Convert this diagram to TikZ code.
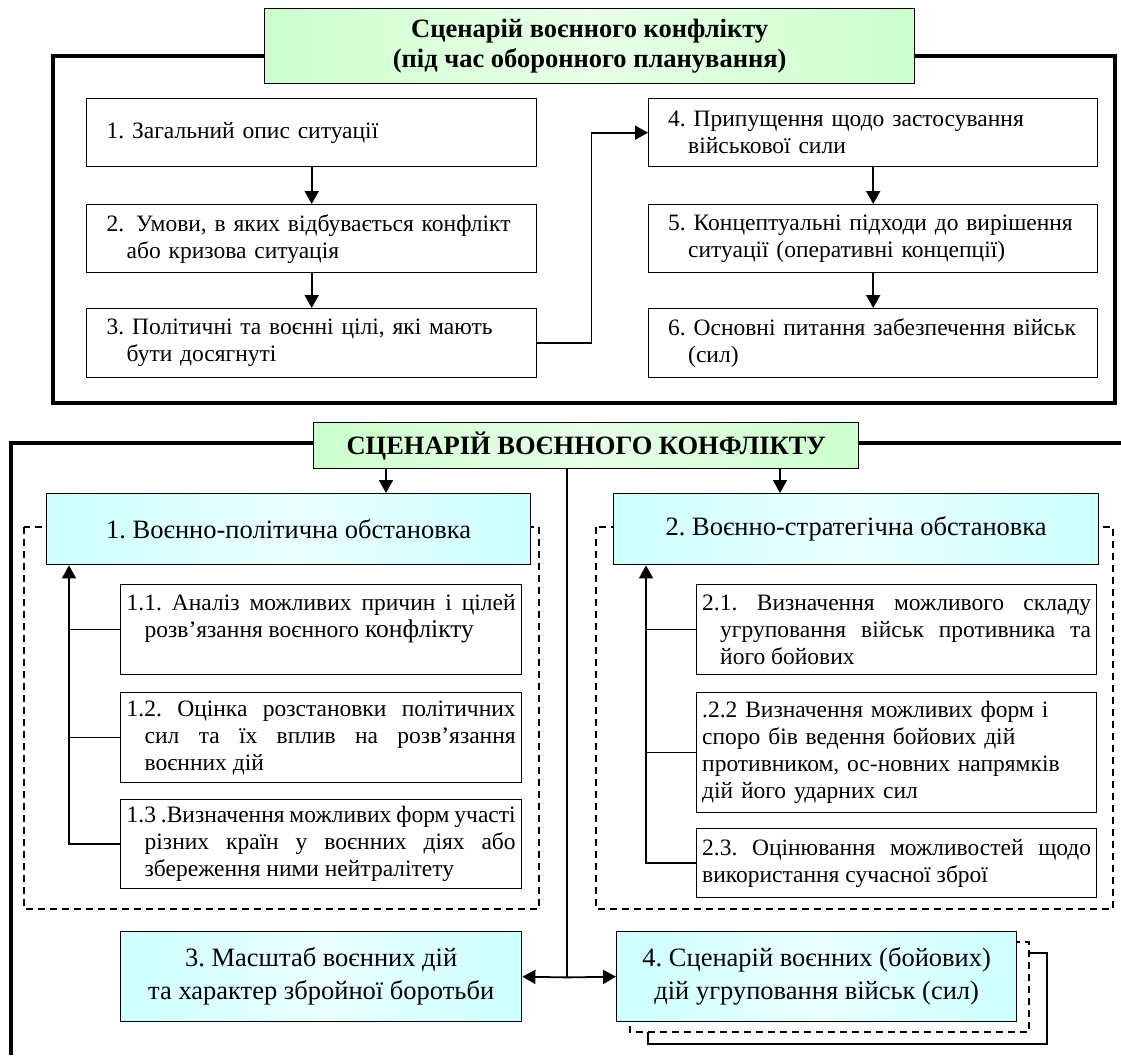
\documentclass[tikz,border=0pt]{standalone}
\usepackage{fontspec}
\setmainfont{Liberation Serif}
\usetikzlibrary{positioning}
\usetikzlibrary{arrows.meta}
\frenchspacing

\definecolor{ttlgreen}{RGB}{204,255,204}
\definecolor{sitcyan}{RGB}{204,255,255}

\newcommand{\tightsp}{\spaceskip=0.25em plus 0.6em minus 0.14em\relax}

\tikzset{
stagebox/.style={draw,line width=1.4pt,fill=white,anchor=north west,
inner xsep=0pt,inner ysep=0pt,font=\fontsize{23.5}{27}\selectfont},
subbox/.style={stagebox,text width=389},
titlebox/.style={draw,line width=1.4pt,anchor=north west,
left color=ttlgreen,right color=ttlgreen,middle color=ttlgreen!45,
font=\bfseries\fontsize{26.5}{30}\selectfont,align=center},
sitbox/.style={draw,line width=1.4pt,anchor=north west,
left color=sitcyan,right color=sitcyan,middle color=sitcyan!40,
font=\fontsize{26.5}{33}\selectfont,align=center},
bigframe/.style={line width=3.4pt},
arr/.style={line width=1.8pt,-{Triangle[length=13pt,width=14pt]}},
conn/.style={line width=1.4pt},
dashframe/.style={line width=1.2pt,dash pattern=on 7pt off 5pt}
}

\begin{document}
\begin{tikzpicture}[x=1pt,y=-1pt]
\useasboundingbox(0,0)rectangle(1121,1055);
% upper block
\draw[bigframe](53,56)rectangle(1115,403);
\node[titlebox,minimum width=650,minimum height=75](ttl1)at(264,8)
{Сценарій воєнного конфлікту\\(під час оборонного планування)};

\node[stagebox,minimum width=450,minimum height=68,text width=410,align=left]
(st1)at(86,98){1. Загальний опис ситуації};
\node[stagebox,minimum width=450,minimum height=68,text width=410,align=left]
(st2)at(86,204){2. \,Умови, в яких відбувається конфлікт\\\hspace*{20pt}або кризова ситуація};
\node[stagebox,minimum width=450,minimum height=69,text width=410,align=left]
(st3)at(86,308){3. Політичні та воєнні цілі, які мають\\\hspace*{20pt}бути досягнуті};
\node[stagebox,minimum width=449,minimum height=68,text width=410,align=left]
(st4)at(648,98){4. Припущення щодо застосування\\\hspace*{20pt}військової сили};
\node[stagebox,minimum width=449,minimum height=68,text width=410,align=left]
(st5)at(648,204){5. Концептуальні підходи до вирішення\\\hspace*{20pt}ситуації (оперативні концепції)};
\node[stagebox,minimum width=449,minimum height=69,text width=410,align=left]
(st6)at(648,308){6. Основні питання забезпечення військ\\\hspace*{20pt}(сил)};

\draw[arr](st1)--(st2);
\draw[arr](st2)--(st3);
\draw[arr](st4)--(st5);
\draw[arr](st5)--(st6);
\draw[arr](st3.east)--++(54,0)|-(st4.west);

% lower block
\draw[bigframe](11,1055)--(11,443)--(1121,443);
\node[titlebox,minimum width=545,minimum height=46](ttl2)at(313,422)
{СЦЕНАРІЙ ВОЄННОГО КОНФЛІКТУ};

\draw[dashframe](24,527)rectangle(539,909);
\draw[dashframe](596,527)rectangle(1113,909);

\node[sitbox,minimum width=484,minimum height=71](sit1)at(46,493)
{1. Воєнно-політична обстановка};
\node[sitbox,minimum width=485,minimum height=71](sit2)at(613,493)
{2. Воєнно-стратегічна обстановка};

\draw[arr]([xshift=73pt]ttl2.south west)--([xshift=73pt]ttl2.south west|-sit1.north);
\draw[arr]([xshift=467pt]ttl2.south west)--([xshift=467pt]ttl2.south west|-sit2.north);

\node[subbox,minimum width=401,minimum height=90,align=justify]
(sub11)at(120,584){\tightsp\hangindent=18pt\hangafter=1
1.1. Аналіз можливих причин і цілей\linebreak
розв’язання воєнного {\fontsize{25.5}{27}\selectfont конфлікту}\par\mbox{}\par};
\node[subbox,minimum width=401,minimum height=90,align=justify]
(sub12)at(120,692){\tightsp\hangindent=18pt\hangafter=1
1.2. Оцінка розстановки політичних\linebreak
сил та їх вплив на розв’язання\linebreak воєнних дій\par};
\node[subbox,minimum width=401,minimum height=89,align=justify]
(sub13)at(120,799){\tightsp\hangindent=18pt\hangafter=1
1.3 .Визначення можливих форм участі\linebreak
різних країн у воєнних діях або\linebreak збереження ними нейтралітету\par};

\node[subbox,minimum width=400,minimum height=90,align=justify]
(sub21)at(696,584){\tightsp\hangindent=18pt\hangafter=1
2.1. Визначення можливого складу\linebreak
угруповання військ противника та\linebreak його бойових\par};
\node[subbox,minimum width=400,minimum height=120,align=left]
(sub22)at(696,692){.2.2 Визначення можливих форм і\\споро бів ведення бойових дій\\
противником, ос-новних напрямків\\дій його ударних сил};
\node[subbox,minimum width=400,minimum height=69,align=justify]
(sub23)at(696,828){\tightsp 2.3. Оцінювання можливостей щодо\linebreak
використання сучасної зброї\par};

\draw[conn](sub11.west)--++(-51,0);
\draw[conn](sub12.west)--++(-51,0);
\draw[arr](sub13.west)-|([xshift=23pt]sit1.south west);
\draw[conn](sub21.west)--++(-50,0);
\draw[conn](sub22.west)--++(-50,0);
\draw[arr](sub23.west)-|([xshift=33pt]sit2.south west);

\node[sitbox,minimum width=401,minimum height=90](sc3)at(120,931)
{3. Масштаб воєнних дій\\та характер збройної боротьби};
\draw[conn,fill=white](648,953)rectangle(1047,1044);
\draw[dashframe,fill=white](630,942)rectangle(1029,1032);
\node[sitbox,minimum width=400,minimum height=90](sc4)at(616,931)
{4. Сценарій воєнних (бойових)\\дій угруповання військ (сил)};

\draw[line width=1.6pt]([xshift=254pt]ttl2.south west)--++(0,508)coordinate(jn);
\draw[arr](jn)--(sc3.east);
\draw[arr](jn)--(sc4.west);
\end{tikzpicture}
\end{document}
